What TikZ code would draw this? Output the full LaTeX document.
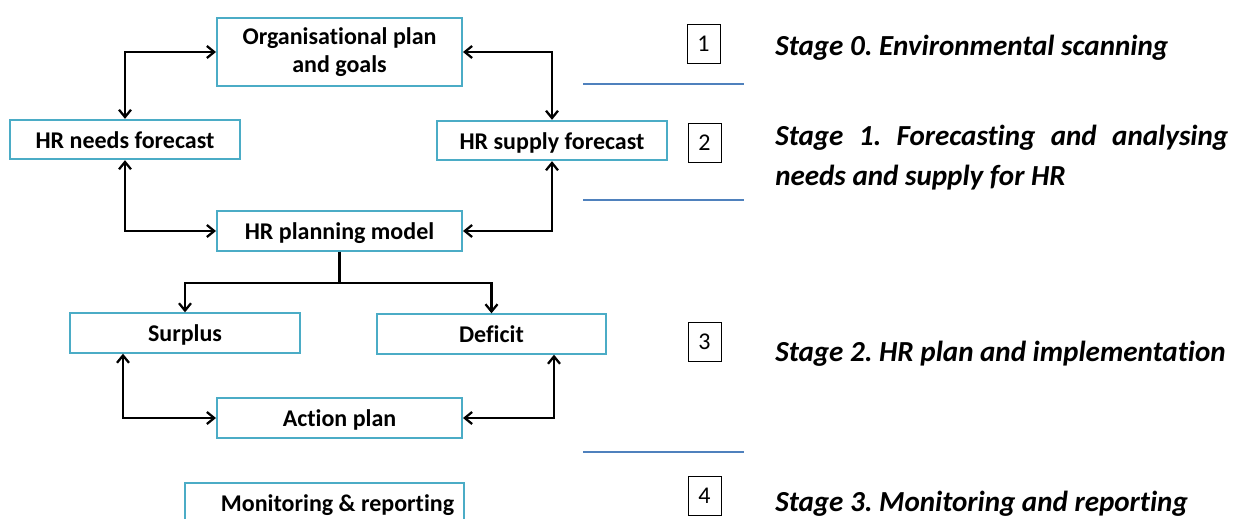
\documentclass[tikz,border=0pt]{standalone}
\usepackage{fontspec}
\setmainfont{Carlito}[Ligatures=NoCommon]
\usepackage{tikz}
\usetikzlibrary{arrows.meta,calc}
\definecolor{boxline}{HTML}{4BACC6}
\definecolor{stageblue}{HTML}{4F81BD}
\def\boxfont{\bfseries\fontsize{18}{21}\selectfont}
\def\stagefont{\bfseries\itshape\fontsize{21.8}{26}\selectfont}
\frenchspacing

\begin{document}
\begin{tikzpicture}[x=0.75pt,y=-0.75pt,
    >={Straight Barb[length=5.5pt,width=9pt]},
    box/.style={draw=boxline,line width=1.5pt,inner sep=2pt,minimum height=29.5pt,
        font=\boxfont,align=center},
    onebox/.style={box,text height=15.5pt,text depth=2.5pt},
    numbox/.style={draw,line width=0.6pt,minimum width=24.75pt,minimum height=29.25pt,
        inner sep=0pt,font=\fontsize{18}{20}\selectfont},
    stage/.style={anchor=base west,inner sep=0pt,font=\stagefont},
    link/.style={line width=1.7pt}]
    \clip (0,0) rectangle (1238,518);
    \fill[white] (0,0) rectangle (1238,518);
    \node[box,minimum width=183.75pt,minimum height=51pt] (org) at (339.5,52) {Organisational plan\\and goals};
    \node[onebox,minimum width=172.5pt] (needs) at (125,139.5) {HR needs forecast};
    \node[onebox,minimum width=172.5pt] (supply) at (552,140.5) {HR supply forecast};
    \node[onebox,minimum width=183.75pt] (plan) at (339.5,231) {HR planning model};
    \node[onebox,minimum width=172.5pt] (surplus) at (185,333) {Surplus};
    \node[onebox,minimum width=171.75pt] (deficit) at (491.5,334) {Deficit};
    \node[onebox,minimum width=183.75pt] (action) at (339.5,418) {Action plan};
    \node[onebox,minimum width=209.25pt] (monitor) at (324.5,503) {\hspace*{19.5pt}Monitoring \& reporting};

    \draw[link,<->] (org.west) -| (needs.north);
    \draw[link,<->] (org.east) -| (supply.north);
    \draw[link,<->] (needs.south) |- (plan.west);
    \draw[link,<->] (supply.south) |- (plan.east);
    \draw[link] (plan.south) -- ++(0,31) coordinate (fork);
    \draw[link,->] (fork) -| (surplus.north);
    \draw[link,->] (fork) -| (deficit.north);
    \draw[link,<->] ($(surplus.south west)+(54,0)$) |- (action.west);
    \draw[link,<->] ($(deficit.south east)+(-53,0)$) |- (action.east);

    \draw[stageblue,line width=2.2pt] (583,84) -- (744,84);
    \draw[stageblue,line width=2.2pt] (583,200) -- (744,200);
    \draw[stageblue,line width=2.2pt] (583,452) -- (744,452);

    \node[numbox] (n1) at (703.5,43.5) {1};
    \node[numbox] (n2) at (704.5,142.5) {2};
    \node[numbox] (n3) at (704.5,342) {3};
    \node[numbox] (n4) at (704.5,495.5) {4};

    \node[stage] (s0) at (775,55) {Stage 0. Environmental scanning};
    \node[stage] (s1) at (775,145) {\makebox[339.75pt][s]{Stage 1. Forecasting and analysing}};
    \node[stage] (s1b) at (775,185) {needs and supply for HR};
    \node[stage] (s2) at (775,361) {Stage 2. HR plan and implementation};
    \node[stage] (s3) at (775,511) {Stage 3. Monitoring and reporting};
\end{tikzpicture}
\end{document}
